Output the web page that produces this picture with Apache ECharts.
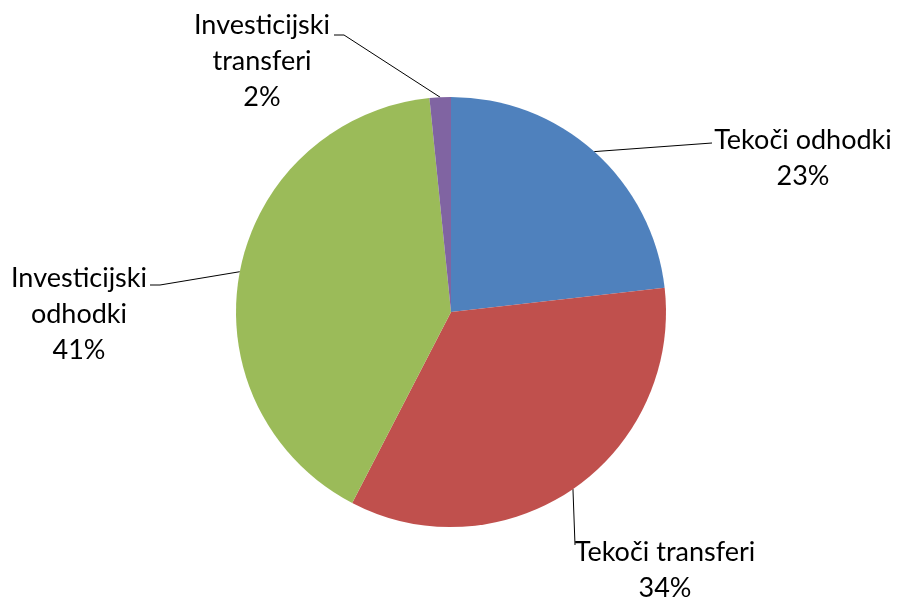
<!DOCTYPE html>
<html lang="sl">
<head>
    <meta charset="UTF-8">
    <title>Pie</title>
    <script type="text/javascript" src="https://cdn.jsdelivr.net/npm/echarts@6/dist/echarts.min.js"></script>
    <style>
        html, body { margin: 0; padding: 0; background: #fff; }
        #charts { width: 901px; height: 598px; }
    </style>
</head>
<body>
<div id="charts"></div>
<script>
    // podatki
    var categories = ['Tekoči odhodki', 'Tekoči transferi', 'Investicijski odhodki', 'Investicijski transferi']
    var values = [23.2, 34.4, 40.8, 1.6]
    var colors = ['#4F81BD', '#C0504D', '#9BBB59', '#8064A2']
    var labelText = ['Tekoči odhodki', 'Tekoči transferi', 'Investicijski\nodhodki', 'Investicijski\ntransferi']

    // where excel put the labels (centre of text block) and where its leader line ends
    var labelPos = [
        {x: 803, y: 158, lx: 712, ly: 143, tail: 0},
        {x: 665, y: 570, lx: 575, ly: 545, tail: 0},
        {x: 79, y: 314, lx: 160, ly: 285, tail: -10},
        {x: 262, y: 61, lx: 344, ly: 35, tail: -10}
    ]

    var data = []
    for (var i = 0; i < categories.length; i++) {
        data.push({name: categories[i], value: values[i], itemStyle: {color: colors[i]}})
    }

    var chart = echarts.init(document.getElementById('charts'), null, {renderer: 'canvas'})
    chart.setOption({
        animation: false,
        series: [{
            type: 'pie',
            center: [451, 312],
            radius: 215,
            startAngle: 90,
            clockwise: true,
            data: data,
            itemStyle: {borderWidth: 0},
            label: {
                show: true,
                position: 'outside',
                color: '#000',
                fontFamily: 'Lato',
                fontSize: 27,
                lineHeight: 36,
                align: 'center',
                formatter: function (p) {
                    return labelText[p.dataIndex] + '\n' + Math.round(p.percent) + '%'
                }
            },
            labelLine: {
                show: true,
                length: 20,
                length2: 10,
                lineStyle: {color: '#000', width: 1}
            },
            labelLayout: function (p) {
                var pos = labelPos[p.dataIndex]
                var res = {x: pos.x, y: pos.y, align: 'center', verticalAlign: 'middle'}
                if (p.labelLinePoints && p.labelLinePoints.length) {
                    var start = p.labelLinePoints[0]
                    var pts = [[start[0], start[1]], [pos.lx, pos.ly]]
                    if (pos.tail) pts.push([pos.lx + pos.tail, pos.ly])
                    else pts.push([pos.lx, pos.ly])
                    res.labelLinePoints = pts
                }
                return res
            }
        }]
    })
</script>
</body>
</html>
